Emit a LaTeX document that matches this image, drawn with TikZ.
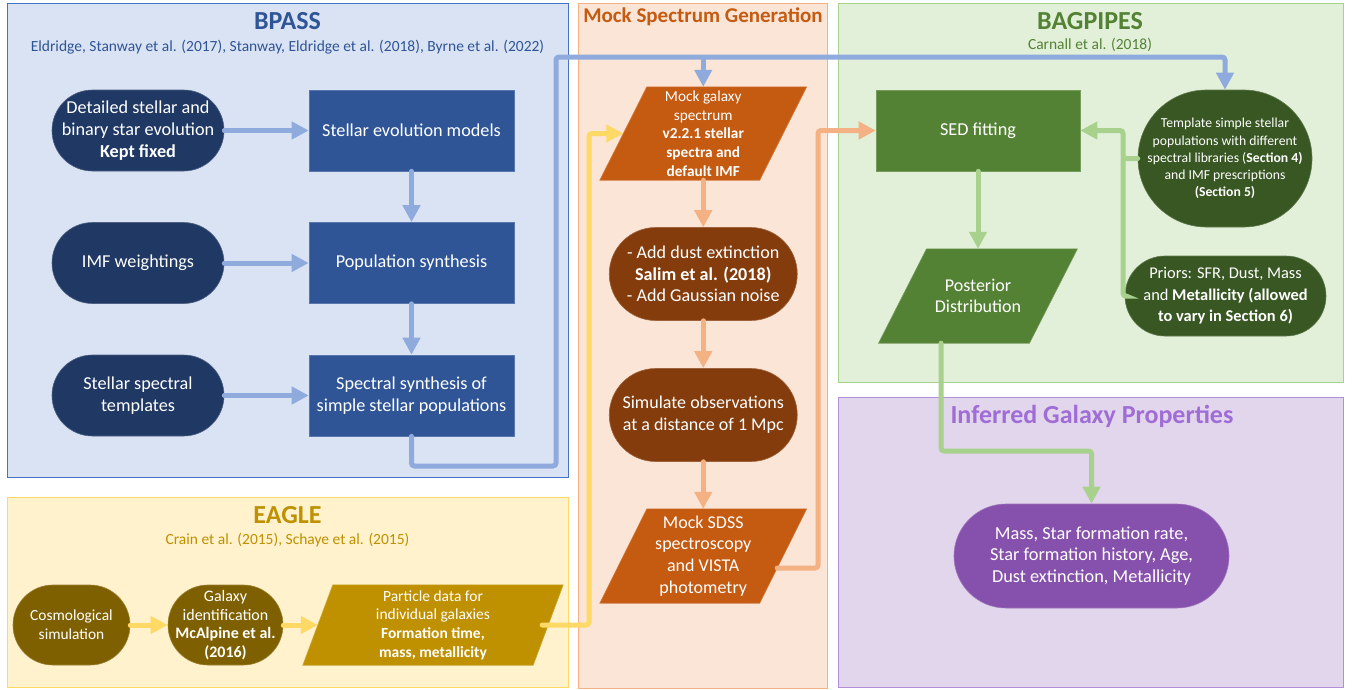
\documentclass[tikz,border=0pt]{standalone}
\usepackage{fontspec}
\setmainfont{Carlito}
\usetikzlibrary{arrows.meta}
\pgfdeclarelayer{panels}
\pgfdeclarelayer{shapes}
\pgfsetlayers{panels,shapes,main}
\newcommand{\fsz}[2]{\fontsize{#1}{#2}\selectfont}
\definecolor{bpassFill}{HTML}{DAE3F3}
\definecolor{bpassLine}{HTML}{4472C4}
\definecolor{bpassTitle}{HTML}{2F5597}
\definecolor{bpassDark}{HTML}{203864}
\definecolor{bpassRect}{HTML}{2F5597}
\definecolor{blueArrow}{HTML}{8FAADC}
\definecolor{mockFill}{HTML}{FBE5D6}
\definecolor{mockLine}{HTML}{F4B183}
\definecolor{mockTitle}{HTML}{C55A11}
\definecolor{mockPara}{HTML}{C55A11}
\definecolor{mockPill}{HTML}{843C0C}
\definecolor{orangeArrow}{HTML}{F4B183}
\definecolor{bagFill}{HTML}{E2F0D9}
\definecolor{bagLine}{HTML}{A9D18E}
\definecolor{bagTitle}{HTML}{548235}
\definecolor{bagRect}{HTML}{548235}
\definecolor{bagPill}{HTML}{385723}
\definecolor{greenArrow}{HTML}{A9D18E}
\definecolor{infFill}{HTML}{E2D6EC}
\definecolor{infLine}{HTML}{B48FD9}
\definecolor{infTitle}{HTML}{A06CD5}
\definecolor{massFill}{HTML}{8651AC}
\definecolor{eagleFill}{HTML}{FFF2CC}
\definecolor{eagleLine}{HTML}{FFD966}
\definecolor{eagleTitle}{HTML}{BF9000}
\definecolor{eaglePill}{HTML}{7F6000}
\definecolor{eaglePara}{HTML}{BF9000}
\definecolor{yellowArrow}{HTML}{FFD966}
\begin{document}
\begin{tikzpicture}[x=1pt,y=-1pt,
  panel/.style={draw=#1, line width=0.8pt, inner sep=0pt},
  ttl/.style={font=\fsz{26}{28}\bfseries, text=#1, inner sep=0pt},
  cite/.style={font=\fsz{15.5}{18}, text=#1, inner sep=0pt},
  txt/.style={text=white, align=center, inner sep=0pt, font=\fsz{18.2}{22}},
  box/.style={txt, fill=#1, draw=#1!80!white, line width=0.6pt},
  para/.style={txt},
  conn/.style={line width=5pt, draw=#1, line cap=round, rounded corners=3pt},
  arr/.style={conn=#1, -{Triangle[length=17pt,width=17pt]}},
]
\useasboundingbox (0,0) rectangle (1352,689);

% ---------- panels ----------
\begin{pgfonlayer}{panels}
\fill[white] (0,0) rectangle (1352,689);
\node[panel=bpassLine, fill=bpassFill, minimum width=561pt, minimum height=474pt] (pbpass) at (287.5,240) {};
\node[panel=mockLine, fill=mockFill, minimum width=249pt, minimum height=685pt] (pmock) at (702.5,345.5) {};
\node[panel=bagLine, fill=bagFill, minimum width=505pt, minimum height=379pt] (pbag) at (1090.5,192.5) {};
\node[panel=infLine, fill=infFill, minimum width=505pt, minimum height=290pt] (pinf) at (1090.5,542) {};
\node[panel=eagleLine, fill=eagleFill, minimum width=561pt, minimum height=190pt] (peagle) at (287.5,592) {};
\end{pgfonlayer}

% ---------- titles ----------
\node[ttl=bpassTitle] (tbpass) at (287.5,21) {BPASS};
\node[cite=bpassTitle] (cbpass) at (287.5,47) {Eldridge, Stanway et al. (2017), Stanway, Eldridge et al. (2018), Byrne et al. (2022)};
\node[ttl=mockTitle, font=\fsz{21}{23}\bfseries] (tmock) at (703,17) {Mock Spectrum Generation};
\node[ttl=bagTitle] (tbag) at (1090,21) {BAGPIPES};
\node[cite=bagTitle] (cbag) at (1090,45) {Carnall et al. (2018)};
\node[ttl=infTitle] (tinf) at (1092,416) {Inferred Galaxy Properties};
\node[ttl=eagleTitle] (teagle) at (287.5,515) {EAGLE};
\node[cite=eagleTitle] (ceagle) at (287.5,540) {Crain et al. (2015), Schaye et al. (2015)};

% ---------- BPASS ----------
\node[box=bpassDark, rounded corners=40.5pt, minimum width=172pt, minimum height=81pt] (dse) at (138,130.5) {Detailed stellar and\\binary star evolution\\\textbf{Kept fixed}};
\node[box=bpassRect, minimum width=205pt, minimum height=81pt] (sem) at (411.5,130.5) {Stellar evolution models};
\node[box=bpassDark, rounded corners=40.5pt, minimum width=172pt, minimum height=81pt] (imf) at (138,263) {IMF weightings};
\node[box=bpassRect, minimum width=205pt, minimum height=81pt] (pop) at (411.5,263) {Population synthesis};
\node[box=bpassDark, rounded corners=40.5pt, minimum width=172pt, minimum height=81pt] (sst) at (138,395.5) {Stellar spectral\\templates};
\node[box=bpassRect, minimum width=205pt, minimum height=81pt] (ssp) at (411.5,395.5) {Spectral synthesis of\\simple stellar populations};

% ---------- Mock ----------
\node[para, minimum width=159.5pt, minimum height=93pt, font=\fsz{15.3}{18.7}] (mgs) at (703.25,133.5) {Mock galaxy\\spectrum\\\textbf{v2.2.1 stellar}\\\textbf{spectra and}\\\textbf{default IMF}};
\node[box=mockPill, rounded corners=46.5pt, minimum width=188pt, minimum height=93pt, font=\fsz{18.1}{21.5}] (dust) at (703.25,274) {- Add dust extinction\\\textbf{Salim et al. (2018)}\\- Add Gaussian noise};
\node[box=mockPill, rounded corners=46.5pt, minimum width=188pt, minimum height=93pt, font=\fsz{18}{22}] (sim) at (703.25,415) {Simulate observations\\at a distance of 1 Mpc};
\node[para, minimum width=159.5pt, minimum height=94pt, font=\fsz{18}{21.8}] (sdss) at (703.25,556) {Mock SDSS\\spectroscopy\\and VISTA\\photometry};

% ---------- BAGPIPES ----------
\node[box=bagRect, minimum width=204pt, minimum height=81pt] (sed) at (978,130.5) {SED fitting};
\node[box=bagPill, rounded corners=68.5pt, minimum width=174pt, minimum height=137pt, font=\fsz{13.7}{17.2}] (tmpl) at (1225,158.5) {Template simple stellar\\populations with different\\spectral libraries (\textbf{Section 4)}\\and IMF prescriptions\\\textbf{(Section 5)}};
\node[para, minimum width=150.5pt, minimum height=94pt, font=\fsz{18}{21}] (post) at (978,296) {Posterior\\Distribution};
\node[box=bagPill, rounded corners=40pt, minimum width=201pt, minimum height=80pt, font=\fsz{16.4}{21.5}] (priors) at (1225.5,296) {Priors: SFR, Dust, Mass\\and \textbf{Metallicity (allowed}\\\textbf{to vary in Section 6)}};

% ---------- Inferred ----------
\node[box=massFill, rounded corners=52pt, minimum width=275pt, minimum height=104pt, font=\fsz{18.3}{21.5}] (mass) at (1091.5,556) {Mass, Star formation rate,\\Star formation history, Age,\\Dust extinction, Metallicity};

% ---------- EAGLE ----------
\node[box=eaglePill, rounded corners=40pt, minimum width=117pt, minimum height=80pt, font=\fsz{15.4}{19}] (cs) at (71.5,625) {Cosmological\\simulation};
\node[box=eaglePill, rounded corners=40pt, minimum width=115pt, minimum height=80pt, font=\fsz{16}{18.7}] (gi) at (225.5,625) {Galaxy\\identification\\\textbf{McAlpine et al.}\\\textbf{(2016)}};
\node[para, minimum width=230pt, minimum height=80pt, font=\fsz{15.5}{18.7}] (pd) at (433,625) {Particle data for\\individual galaxies\\\textbf{Formation time,}\\\textbf{mass, metallicity}};

% ---------- parallelogram bodies ----------
\begin{pgfonlayer}{shapes}
\fill[mockPara, draw=mockPara!80!white, line width=0.6pt] ([xshift=23.5pt]mgs.north west) -- ([xshift=23.5pt]mgs.north east) -- ([xshift=-23.5pt]mgs.south east) -- ([xshift=-23.5pt]mgs.south west) -- cycle;
\fill[mockPara, draw=mockPara!80!white, line width=0.6pt] ([xshift=23.5pt]sdss.north west) -- ([xshift=23.5pt]sdss.north east) -- ([xshift=-23.5pt]sdss.south east) -- ([xshift=-23.5pt]sdss.south west) -- cycle;
\fill[bagRect, draw=bagRect!80!white, line width=0.6pt] ([xshift=24pt]post.north west) -- ([xshift=24pt]post.north east) -- ([xshift=-24pt]post.south east) -- ([xshift=-24pt]post.south west) -- cycle;
\fill[eaglePara, draw=eaglePara!80!white, line width=0.6pt] ([xshift=15pt]pd.north west) -- ([xshift=15pt]pd.north east) -- ([xshift=-15pt]pd.south east) -- ([xshift=-15pt]pd.south west) -- cycle;
\end{pgfonlayer}

% ---------- connectors ----------
\draw[arr=blueArrow] (dse.east) -- (sem.west);
\draw[arr=blueArrow] (imf.east) -- (pop.west);
\draw[arr=blueArrow] (sst.east) -- (ssp.west);
\draw[arr=blueArrow] (sem.south) -- (pop.north);
\draw[arr=blueArrow] (pop.south) -- (ssp.north);
\coordinate (b1) at (556,466);
\coordinate (b2) at (556,57);
\coordinate (b3) at (703.25,57);
\draw[arr=blueArrow] (ssp.south) |- (b1) -- (b2) -| (tmpl.north);
\draw[arr=blueArrow, line cap=butt] (b3) -- (mgs.north);

\draw[arr=orangeArrow] (mgs.south) -- (dust.north);
\draw[arr=orangeArrow] (dust.south) -- (sim.north);
\draw[arr=orangeArrow] (sim.south) -- (sdss.north);
\coordinate (o1) at (818,130.5);
\draw[arr=orangeArrow] ([shift={(-6pt,-12pt)}]sdss.east) -| (o1) -- (sed.west);

\draw[arr=yellowArrow] (cs.east) -- (gi.west);
\draw[arr=yellowArrow] (gi.east) -- (pd.west);
\coordinate (y1) at (589,133.5);
\draw[arr=yellowArrow] ([xshift=-6pt]pd.east) -| (y1) -- (mgs.west);

\draw[arr=greenArrow] (sed.south) -- (post.north);
\coordinate (gj) at (1123,158.5);
\draw[arr=greenArrow] (tmpl.west) -- (gj) |- (sed.east);
\draw[conn=greenArrow] (priors.west) -| (gj);
\coordinate (pm) at (1091.5,451);
\draw[arr=greenArrow] ([xshift=-37pt]post.south) |- (pm) -- (mass.north);
\end{tikzpicture}
\end{document}
